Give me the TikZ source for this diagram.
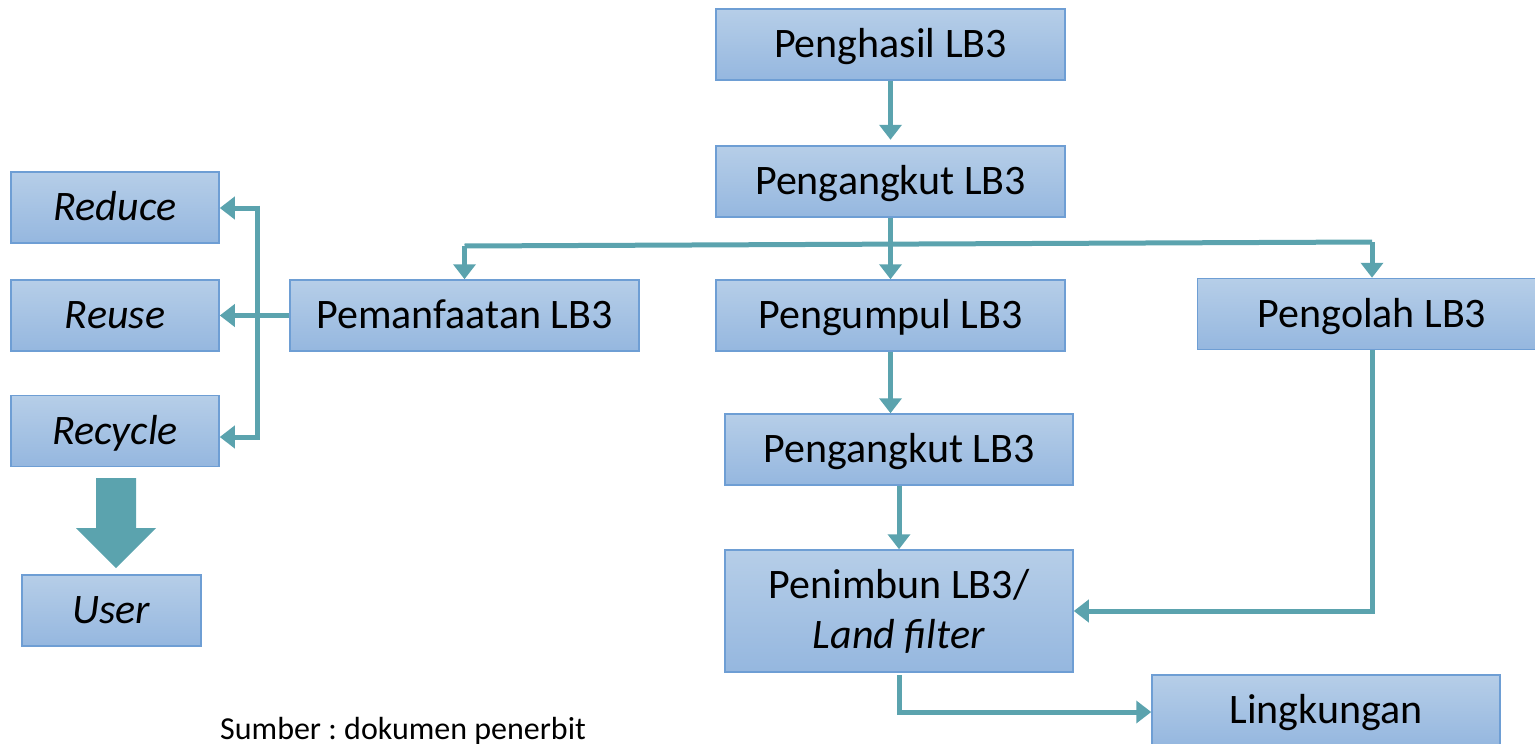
\documentclass[tikz,border=0pt]{standalone}
\usepackage{fontspec}
\setmainfont{Carlito}
\frenchspacing
\usetikzlibrary{arrows.meta}
\definecolor{flow}{HTML}{5BA3AE}
\definecolor{boxtop}{HTML}{B6CEE8}
\definecolor{boxbot}{HTML}{95B7DF}
\definecolor{boxedge}{HTML}{6E9ED4}
\tikzset{
  stage/.style={draw=boxedge, line width=1.5pt, top color=boxtop, bottom color=boxbot,
    rectangle, inner sep=0pt, font=\fontsize{42}{50}\selectfont, text=black, align=center},
  oneline/.style={stage, text height=34pt, text depth=8pt},
  link/.style={draw=flow, line width=5pt, -{Triangle[width=22pt,length=15pt]}},
  bare/.style={draw=flow, line width=5pt}
}
\begin{document}
\begin{tikzpicture}[x=1pt,y=-1pt]
\useasboundingbox (0,0) rectangle (1535,744);
\clip (0,0) rectangle (1535,744);

% main chain
\node[oneline, minimum width=349pt, minimum height=71pt] (ph) at (890.5,44.5) {Penghasil LB3};
\node[oneline, minimum width=349pt, minimum height=71pt] (pa1) at (890.5,181.5) {Pengangkut LB3};
\node[oneline, minimum width=349pt, minimum height=71pt] (pm) at (464.5,315.5) {Pemanfaatan LB3};
\node[oneline, minimum width=349pt, minimum height=71pt] (pk) at (890.5,315.5) {Pengumpul LB3};
\node[oneline, minimum width=349pt, minimum height=71pt] (po) at (1372,314) {Pengolah LB3};
\node[oneline, minimum width=348pt, minimum height=71pt] (pa2) at (899,449.5) {Pengangkut LB3};
\node[stage, minimum width=348pt, minimum height=122pt] (pt) at (899,611) {Penimbun LB3/\\\textit{Land filter}};
\node[oneline, minimum width=348pt, minimum height=71pt] (lk) at (1326,710.5) {Lingkungan};

% 3R boxes
\node[oneline, minimum width=208pt, minimum height=71pt] (rd) at (115,207.5) {\textit{Reduce}};
\node[oneline, minimum width=208pt, minimum height=71pt] (ru) at (115,315.5) {\textit{Reuse}};
\node[oneline, minimum width=208pt, minimum height=71pt] (rc) at (115,431) {\textit{Recycle}};
\node[oneline, minimum width=179pt, minimum height=71pt] (us) at (111.5,610.5) {\textit{User}};

% block arrow from Recycle to User
\fill[flow] (96,478) -- (136,478) -- (136,528) -- (156,528) -- (116,568) -- (76,528) -- (96,528) -- cycle;

% connectors
\draw[link] (ph.south) -- ++(0,59);
\draw[link] (pa1.south) -- (pk.north);
\coordinate (bl) at (464.5,246);
\coordinate (br) at (1372,242);
\draw[bare] (bl) -- (br);
\draw[link] (bl) -- (pm.north);
\draw[link] (br) -- (po.north);

\draw[link] (pm.west) -- (ru.east);
\coordinate (sp) at (257,208);
\draw[link] (sp) -- (rd.east |- sp);
\draw[bare] (257,205.5) -- (257,439.5);
\draw[link] (257,437) -- (rc.east |- 0,437);

\draw[link] (pk.south) -- (pa2.north -| pk.south);
\draw[link] (pa2.south) -- (pt.north);

\draw[link] (po.south) -- (1372,611) -- (pt.east);
\draw[link] (899,675) -- (899,712) -- (lk.west |- 0,712);

\node[anchor=base west, font=\fontsize{32}{38}\selectfont, inner sep=0pt] (src) at (220,739) {Sumber : dokumen penerbit};
\end{tikzpicture}
\end{document}
